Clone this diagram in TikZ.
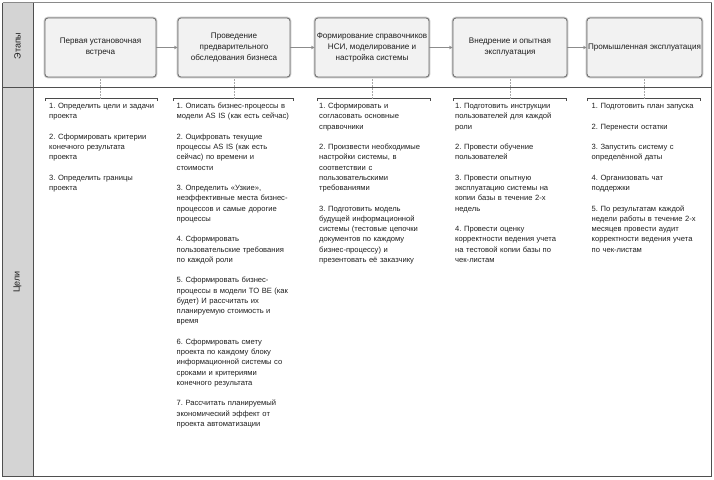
\documentclass[tikz,border=0pt]{standalone}
\usepackage{fontspec}
\setmainfont{Liberation Sans}
\usetikzlibrary{arrows.meta}
\frenchspacing
\definecolor{framec}{HTML}{4F4F4F}
\definecolor{topc}{HTML}{8A8A8A}
\definecolor{sidefill}{HTML}{D4D4D4}
\definecolor{boxfill}{HTML}{F2F2F2}
\definecolor{boxdraw}{HTML}{6A6A6A}
\definecolor{glow}{HTML}{C8C8C8}
\definecolor{arrowc}{HTML}{8C8C8C}
\definecolor{dotc}{HTML}{A8A8A8}
\definecolor{txt}{HTML}{1E1E1E}
\definecolor{brk}{HTML}{4A4A4A}
\tikzset{
  stagebox/.style={rectangle, rounded corners=3pt, draw=boxdraw, line width=0.8pt,
    fill=boxfill, preaction={draw=glow, line width=2.6pt},
    minimum height=59pt, inner sep=0pt, align=center, text=txt,
    font={\fontsize{8.1}{11}\selectfont}},
  flow/.style={draw=arrowc, line width=1.3pt, -{Stealth[length=3.5pt,width=3.5pt]}},
  dotlink/.style={draw=dotc, line width=0.5pt, densely dotted},
  bracketline/.style={draw=brk, line width=0.8pt},
  goallist/.style={anchor=base west, inner sep=0pt, text width=135pt, align=left,
    text=txt, font={\fontsize{7.6}{10.25}\selectfont\frenchspacing}},
  rowlabel/.style={rotate=90, text=txt, inner sep=0pt, font={\fontsize{9}{10}\selectfont}}
}
\begin{document}
\begin{tikzpicture}[x=1pt,y=-1pt]
\useasboundingbox (0,0) rectangle (714,479);
% side column
\fill[sidefill] (2.5,2.5) rectangle (33.5,476);
% frame
\draw[framec, line width=1pt] (2.5,2.5) -- (2.5,476) -- (711.5,476) -- (711.5,2.5);
\draw[topc, line width=0.8pt] (2.5,2.5) -- (711.5,2.5);
\draw[framec, line width=1pt] (33.5,2.5) -- (33.5,476);
\draw[framec, line width=0.9pt] (2.5,87.5) -- (711.5,87.5);
% row labels
\node[rowlabel] (l1) at (17.5,46) {Этапы};
\node[rowlabel] (l2) at (17.5,282) {Цели};
% stages
\node[stagebox, minimum width=111pt] (s1) at (100.5,47.5) {Первая установочная\\встреча};
\node[stagebox, minimum width=112pt] (s2) at (234,47.5) {Проведение\\предварительного\\обследования бизнеса};
\node[stagebox, minimum width=114pt] (s3) at (372,47.5) {Формирование справочников\\НСИ, моделирование и\\настройка системы};
\node[stagebox, minimum width=114pt] (s4) at (510,47.5) {Внедрение и опытная\\эксплуатация};
\node[stagebox, minimum width=115pt] (s5) at (644.5,47.5) {Промышленная эксплуатация};
\draw[flow] (s1) -- (s2);
\draw[flow] (s2) -- (s3);
\draw[flow] (s3) -- (s4);
\draw[flow] (s4) -- (s5);
% brackets
\coordinate (k1) at (100.5,98.5);
\coordinate (k2) at (234,98.5);
\coordinate (k3) at (372,98.5);
\coordinate (k4) at (510,98.5);
\coordinate (k5) at (644.5,98.5);
\draw[bracketline] (45,101) -- (45,98.5) -- (157,98.5) -- (157,101);
\draw[bracketline] (173,101) -- (173,98.5) -- (293,98.5) -- (293,101);
\draw[bracketline] (317,101) -- (317,98.5) -- (430,98.5) -- (430,101);
\draw[bracketline] (453,101) -- (453,98.5) -- (566,98.5) -- (566,101);
\draw[bracketline] (587,101) -- (587,98.5) -- (700,98.5) -- (700,101);
\draw[dotlink] (s1.south) -- (k1);
\draw[dotlink] (s2.south) -- (k2);
\draw[dotlink] (s3.south) -- (k3);
\draw[dotlink] (s4.south) -- (k4);
\draw[dotlink] (s5.south) -- (k5);
% goals
\node[goallist] (g1) at (49,108.7) {1. Определить цели и задачи\\проекта\\[10.25pt]
2. Сформировать критерии\\конечного результата\\проекта\\[10.25pt]
3. Определить границы\\проекта};
\node[goallist] (g2) at (176.5,108.7) {1. Описать бизнес-процессы в\\модели AS IS (как есть сейчас)\\[10.25pt]
2. Оцифровать текущие\\процессы AS IS (как есть\\сейчас) по времени и\\стоимости\\[10.25pt]
3. Определить «Узкие»,\\неэффективные места бизнес-\\процессов и самые дорогие\\процессы\\[10.25pt]
4. Сформировать\\пользовательские требования\\по каждой роли\\[10.25pt]
5. Сформировать бизнес-\\процессы в модели TO BE (как\\будет) И рассчитать их\\планируемую стоимость и\\время\\[10.25pt]
6. Сформировать смету\\проекта по каждому блоку\\информационной системы со\\сроками и критериями\\конечного результата\\[10.25pt]
7. Рассчитать планируемый\\экономический эффект от\\проекта автоматизации};
\node[goallist] (g3) at (319,108.7) {1. Сформировать и\\согласовать основные\\справочники\\[10.25pt]
2. Произвести необходимые\\настройки системы, в\\соответствии с\\пользовательскими\\требованиями\\[10.25pt]
3. Подготовить модель\\будущей информационной\\системы (тестовые цепочки\\документов по каждому\\бизнес-процессу) и\\презентовать её заказчику};
\node[goallist] (g4) at (455,108.7) {1. Подготовить инструкции\\пользователей для каждой\\роли\\[10.25pt]
2. Провести обучение\\пользователей\\[10.25pt]
3. Провести опытную\\эксплуатацию системы на\\копии базы в течение 2-х\\недель\\[10.25pt]
4. Провести оценку\\корректности ведения учета\\на тестовой копии базы по\\чек-листам};
\node[goallist] (g5) at (591.5,108.7) {1. Подготовить план запуска\\[10.25pt]
2. Перенести остатки\\[10.25pt]
3. Запустить систему с\\определённой даты\\[10.25pt]
4. Организовать чат\\поддержки\\[10.25pt]
5. По результатам каждой\\недели работы в течение 2-х\\месяцев провести аудит\\корректности ведения учета\\по чек-листам};
\end{tikzpicture}
\end{document}
